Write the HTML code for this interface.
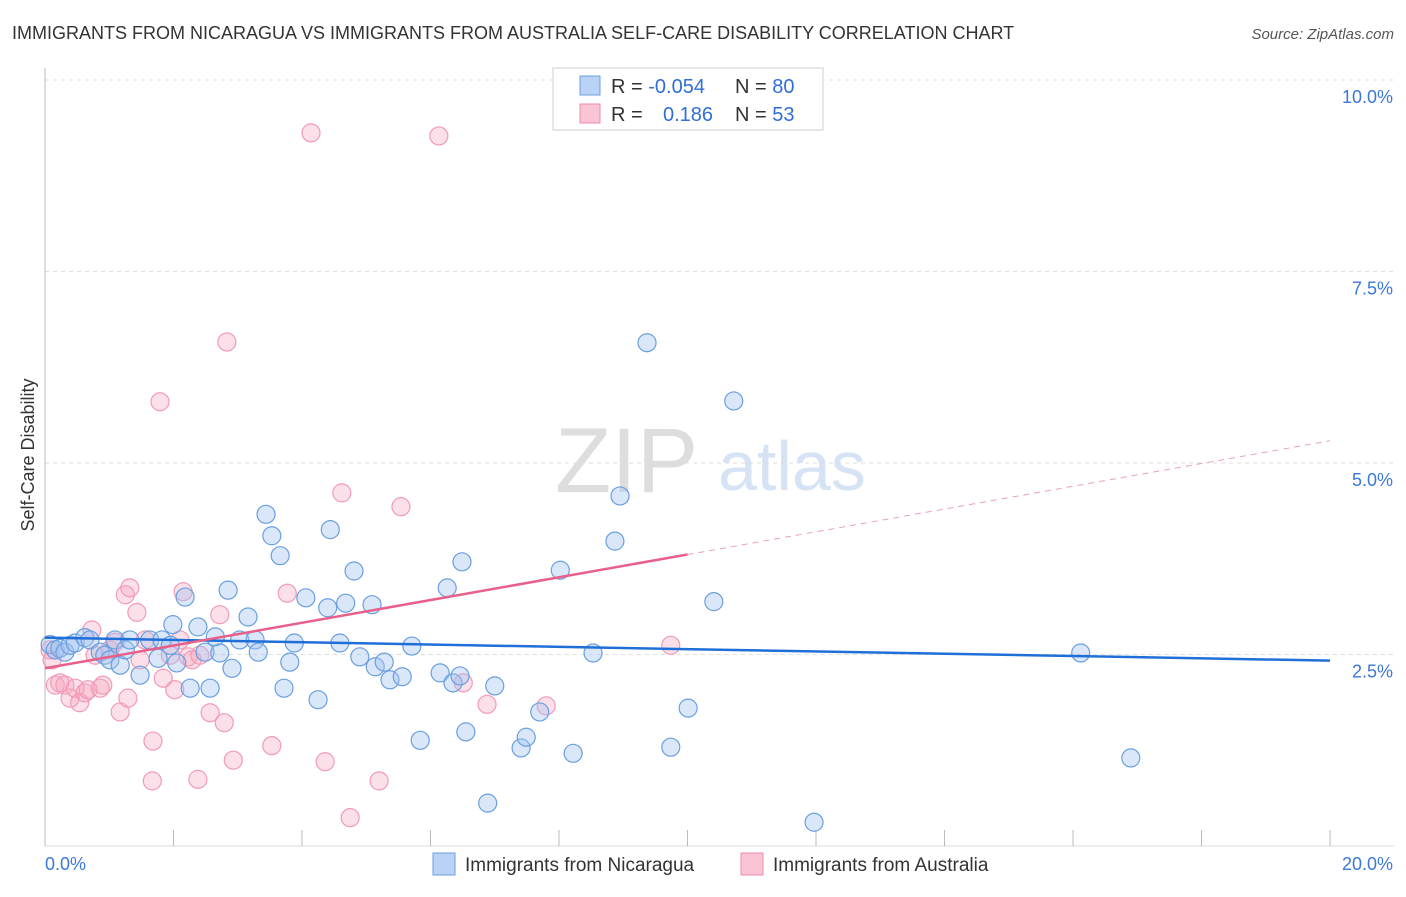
<!DOCTYPE html>
<html><head><meta charset="utf-8"><style>
body{margin:0;background:#fff;font-family:"Liberation Sans",sans-serif;}
svg text{font-family:"Liberation Sans",sans-serif;}
</style></head><body>
<svg id="chart" width="1406" height="892">
<text x="12" y="39" font-size="18" fill="#333">IMMIGRANTS FROM NICARAGUA VS IMMIGRANTS FROM AUSTRALIA SELF-CARE DISABILITY CORRELATION CHART</text>
<text x="1394" y="39" font-size="15" fill="#555" font-style="italic" text-anchor="end">Source: ZipAtlas.com</text>
<text x="555" y="492" font-size="92" fill="#ddd" font-family="Liberation Serif">ZIP</text>
<text x="718" y="490" font-size="70" fill="#d5e3f5">atlas</text>
<text transform="translate(34,455) rotate(-90)" font-size="18" fill="#333" text-anchor="middle">Self-Care Disability</text>
<g id="grid"></g><g id="pts"></g><g id="lines"></g>
<g>
<rect x="553" y="68" width="270" height="62" fill="#fff" stroke="#ccc"/>
<rect x="580" y="76" width="20" height="19" fill="#b9d2f5" stroke="#6a9fe0"/>
<rect x="580" y="104" width="20" height="19" fill="#f9c5d5" stroke="#f08aab"/>
<text x="611" y="93" font-size="20" fill="#333">R = <tspan fill="#2f6fd6">-0.054</tspan></text>
<text x="735" y="93" font-size="20" fill="#333">N = <tspan fill="#2f6fd6">80</tspan></text>
<text x="611" y="121" font-size="20" fill="#333">R = <tspan x="663" fill="#2f6fd6">0.186</tspan></text>
<text x="735" y="121" font-size="20" fill="#333">N = <tspan fill="#2f6fd6">53</tspan></text>
</g>
<g>
<rect x="433" y="853" width="22" height="22" fill="#b9d2f5" stroke="#6a9fe0"/>
<text x="465" y="871" font-size="19" fill="#333">Immigrants from Nicaragua</text>
<rect x="741" y="853" width="22" height="22" fill="#f9c5d5" stroke="#f08aab"/>
<text x="773" y="871" font-size="19" fill="#333">Immigrants from Australia</text>
</g>
<text x="45" y="870" font-size="18" fill="#3b78d8">0.0%</text>
<text x="1393" y="870" font-size="18" fill="#3b78d8" text-anchor="end">20.0%</text>
</svg>
<script>
const yTicks=[2.5,5,7.5,10];
const yTickLabels=["2.5%","5.0%","7.5%","10.0%"];
const xTicks=[0,2,4,6,8,10,12,14,16,18,20];
const nicX=[0.08,0.16,0.23,0.31,0.39,0.47,0.62,0.70,0.86,0.93,1.01,1.09,1.17,1.25,1.32,1.48,1.63,1.76,1.82,1.95,1.99,2.05,2.18,2.26,2.38,2.49,2.57,2.65,2.72,2.85,2.91,3.03,3.16,3.27,3.32,3.44,3.53,3.66,3.72,3.81,3.88,4.06,4.25,4.40,4.44,4.59,4.68,4.81,4.90,5.09,5.14,5.28,5.37,5.56,5.71,5.84,6.15,6.26,6.35,6.46,6.49,6.55,6.89,7.00,7.41,7.49,7.70,8.02,8.22,8.53,8.87,8.95,9.37,9.74,10.01,10.41,10.72,11.97,16.12,16.90];
const nicY=[2.63,2.56,2.58,2.53,2.62,2.65,2.72,2.69,2.53,2.49,2.43,2.69,2.36,2.56,2.69,2.23,2.69,2.45,2.69,2.62,2.89,2.39,3.25,2.06,2.86,2.53,2.06,2.73,2.52,3.34,2.32,2.69,2.99,2.69,2.53,4.33,4.05,3.79,2.06,2.40,2.65,3.24,1.91,3.11,4.13,2.65,3.17,3.59,2.47,3.15,2.34,2.40,2.17,2.21,2.61,1.38,2.26,3.37,2.13,2.22,3.71,1.49,0.56,2.09,1.28,1.42,1.75,3.60,1.21,2.52,3.98,4.57,6.57,1.29,1.80,3.19,5.81,0.31,2.52,1.15];
const ausX=[0.08,0.11,0.16,0.23,0.31,0.39,0.47,0.54,0.62,0.67,0.73,0.78,0.86,0.90,1.01,1.09,1.17,1.25,1.29,1.32,1.43,1.48,1.56,1.68,1.67,1.79,1.84,1.95,2.02,2.10,2.15,2.23,2.29,2.38,2.41,2.57,2.72,2.79,2.83,2.93,3.53,3.77,4.14,4.36,4.62,4.75,5.20,5.54,6.13,6.51,6.88,7.80,9.74];
const ausY=[2.56,2.43,2.10,2.13,2.10,1.93,2.06,1.87,2.00,2.04,2.82,2.49,2.06,2.10,2.56,2.66,1.75,3.28,1.93,3.37,3.05,2.43,2.69,1.37,0.85,5.80,2.19,2.49,2.04,2.69,3.32,2.47,2.43,0.87,2.49,1.74,3.02,1.61,6.58,1.12,1.31,3.30,9.31,1.10,4.61,0.37,0.85,4.43,9.27,2.13,1.85,1.83,2.62];
const nicTrend=[2.72,2.42];
const ausTrend=[2.32,5.29];
const ausSolidEnd=10;
const NS="http://www.w3.org/2000/svg";
const X=v=>45+v*64.25, Y=v=>846-v*76.6;
function mk(t,a,p){const e=document.createElementNS(NS,t);for(const k in a)e.setAttribute(k,a[k]);p.appendChild(e);return e;}
const grid=document.getElementById('grid');
yTicks.forEach((t,i)=>{
 const l=mk('line',{x1:45,x2:1394,y1:Y(t),y2:Y(t),stroke:'#ddd','stroke-dasharray':'4,4'},grid);
 
 
 const tx=mk('text',{x:1393,y:Y(t)+23,'font-size':18,fill:'#3b78d8','text-anchor':'end'},grid);
 tx.textContent=yTickLabels[i];
 
 
});
const ax=mk('line',{x1:45,x2:45,y1:68,y2:846,stroke:'#bbb'},grid);


const bx=mk('line',{x1:45,x2:1394,y1:846,y2:846,stroke:'#ddd'},grid);


xTicks.forEach(t=>{
 const l=mk('line',{x1:X(t),x2:X(t),y1:830,y2:846,stroke:'#bbb'},grid);
 
 
});
const pts=document.getElementById('pts');
ausX.forEach((x,i)=>{
 const c=mk('circle',{cx:X(x),cy:Y(ausY[i]),r:9,fill:'rgba(245,165,192,0.35)',stroke:'#f29ab6','stroke-width':1.2},pts);
 
 
});
nicX.forEach((x,i)=>{
 const c=mk('circle',{cx:X(x),cy:Y(nicY[i]),r:9,fill:'rgba(160,195,240,0.4)',stroke:'#6a9fe0','stroke-width':1.2},pts);
 
 
});
const lines=document.getElementById('lines');
const nl=mk('line',{x1:X(0),y1:Y(nicTrend[0]),x2:X(20),y2:Y(nicTrend[1]),stroke:'#1f6fd8','stroke-width':2.5},lines);


const am=ausTrend[0]+(ausTrend[1]-ausTrend[0])*ausSolidEnd/20;
const al=mk('line',{x1:X(0),y1:Y(ausTrend[0]),x2:X(ausSolidEnd),y2:Y(am),stroke:'#e8608a','stroke-width':2.5},lines);


const ad=mk('line',{x1:X(ausSolidEnd),y1:Y(am),x2:X(20),y2:Y(ausTrend[1]),stroke:'#eaa0b8','stroke-width':1,'stroke-dasharray':'6,5'},lines);


</script>
</body></html>
